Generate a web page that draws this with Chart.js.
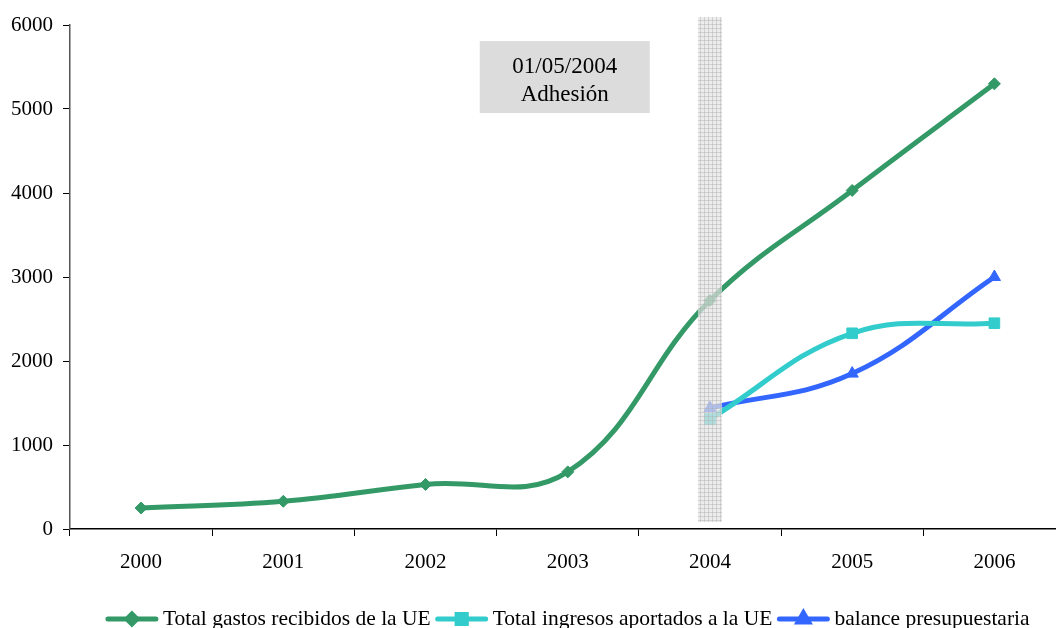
<!DOCTYPE html>
<html>
<head>
<meta charset="utf-8">
<script src="https://cdn.jsdelivr.net/npm/chart.js@4"></script>
<style>
  html, body { margin: 0; padding: 0; background: #fff; overflow: hidden; }
  #wrap { width: 1074px; height: 628px; position: relative; }
</style>
</head>
<body>
<div id="wrap"><canvas id="ue-chart"></canvas></div>
<script>
// years on the x axis
const years = ['2000', '2001', '2002', '2003', '2004', '2005', '2006'];
// Total gastos recibidos de la UE
const gastos = [250, 330, 530, 680, 2720, 4030, 5300];
// Total ingresos aportados a la UE (only from 2004)
const ingresos = [null, null, null, null, 1310, 2330, 2450];
// balance presupuestaria (only from 2004)
const balance = [null, null, null, null, 1440, 1850, 3000];
const yTicks = [0, 1000, 2000, 3000, 4000, 5000, 6000];
const noteLines = ['01/05/2004', 'Adhesión'];

const SERIF = '"Liberation Serif", "Times New Roman", serif';

// hatched grey pattern for the accession band
function makePattern(ctx) {
  const c = document.createElement('canvas');
  c.width = 4; c.height = 4;
  const p = c.getContext('2d');
  p.fillStyle = 'rgba(228,228,228,0.7)';
  p.fillRect(0, 0, 4, 4);
  p.fillStyle = 'rgba(175,175,175,0.45)';
  p.fillRect(0, 0, 4, 1);
  p.fillRect(0, 0, 1, 4);
  return ctx.createPattern(c, 'repeat');
}

// band at 2004 + the text box "01/05/2004 Adhesión"
const annotPlugin = {
  id: 'annot',
  afterDatasetsDraw(chart) {
    const ctx = chart.ctx;
    const x = chart.scales.x, y = chart.scales.y;
    const area = chart.chartArea;
    ctx.save();
    const bx = x.getPixelForValue(4);
    ctx.fillStyle = makePattern(ctx);
    ctx.fillRect(bx - 12, area.top - 8, 24, area.bottom - area.top + 1);

    const cx = x.getPixelForValue(3) - 3;
    const cy = y.getPixelForValue(5380);
    ctx.fillStyle = '#dcdcdc';
    ctx.fillRect(cx - 85, cy - 36, 170, 72);
    ctx.fillStyle = '#000';
    ctx.font = '23px ' + SERIF;
    ctx.textAlign = 'center';
    ctx.textBaseline = 'middle';
    ctx.fillText(noteLines[0], cx, cy - 10);
    ctx.fillText(noteLines[1], cx, cy + 18);
    ctx.restore();
  }
};

// legend: line sample with marker, then label
const legendPlugin = {
  id: 'lineLegend',
  afterDraw(chart) {
    const ctx = chart.ctx;
    const area = chart.chartArea;
    const sets = chart.data.datasets;
    ctx.save();
    ctx.font = '21.5px ' + SERIF;
    const sampleW = 52, gap = 5, itemGap = 5;
    let total = 0;
    sets.forEach((d, i) => {
      total += sampleW + gap + ctx.measureText(d.label).width;
      if (i < sets.length - 1) total += itemGap;
    });
    let xPos = (area.left + area.right) / 2 - total / 2;
    const yPos = 619;
    sets.forEach(d => {
      ctx.strokeStyle = d.borderColor;
      ctx.lineWidth = 5;
      ctx.lineCap = 'round';
      ctx.beginPath();
      ctx.moveTo(xPos + 2, yPos);
      ctx.lineTo(xPos + sampleW - 2, yPos);
      ctx.stroke();
      Chart.helpers.drawPoint(ctx, {
        pointStyle: d.pointStyle, radius: d.pointRadius - 1, borderWidth: 1
      }, xPos + sampleW / 2, yPos);
      ctx.fillStyle = d.borderColor;
      ctx.fill();
      ctx.fillStyle = '#000';
      ctx.textAlign = 'left';
      ctx.textBaseline = 'middle';
      const tw = ctx.measureText(d.label).width;
      ctx.fillText(d.label, xPos + sampleW + gap, yPos);
      xPos += sampleW + gap + tw + itemGap;
    });
    ctx.restore();
  }
};

const ctx_ue = document.getElementById('ue-chart').getContext('2d');
const ueChart = new Chart(ctx_ue, {
  type: 'line',
  data: {
    labels: years,
    datasets: [{
      label: 'Total gastos recibidos de la UE',
      data: gastos,
      borderColor: '#339966',
      backgroundColor: '#339966',
      borderWidth: 5,
      pointStyle: 'rectRot',
      pointRadius: 6,
      pointBorderWidth: 1
    }, {
      label: 'Total ingresos aportados a la UE',
      data: ingresos,
      borderColor: '#33CCCC',
      backgroundColor: '#33CCCC',
      borderWidth: 5,
      pointStyle: 'rect',
      pointRadius: 7.5,
      pointBorderWidth: 1
    }, {
      label: 'balance presupuestaria',
      data: balance,
      borderColor: '#3366FF',
      backgroundColor: '#3366FF',
      borderWidth: 5,
      pointStyle: 'triangle',
      pointRadius: 7,
      pointBorderWidth: 1
    }]
  },
  options: {
    responsive: true,
    maintainAspectRatio: false,
    animation: false,
    tension: 0.4,
    layout: { padding: { top: 25, right: 6, bottom: 54, left: 0 } },
    plugins: {
      legend: { display: false },
      tooltip: { enabled: false }
    },
    scales: {
      x: {
        offset: true,
        grid: { offset: true, drawOnChartArea: false, tickLength: 7, tickColor: '#000' },
        border: { color: '#000', width: 1.5 },
        ticks: { color: '#000', font: { family: SERIF, size: 21 }, padding: 14, maxRotation: 0 },
        afterFit(s) { s.height = 45; }
      },
      y: {
        min: 0,
        max: 6000,
        afterBuildTicks(s) { s.ticks = yTicks.map(v => ({ value: v })); },
        grid: { drawOnChartArea: false, tickLength: 7, tickColor: '#000' },
        border: { color: '#555', width: 1.5 },
        ticks: {
          color: '#000', font: { family: SERIF, size: 21 }, padding: 10,
          callback: v => String(v)
        },
        afterFit(s) { s.width = 70; }
      }
    }
  },
  plugins: [annotPlugin, legendPlugin]
});
</script>
</body>
</html>
